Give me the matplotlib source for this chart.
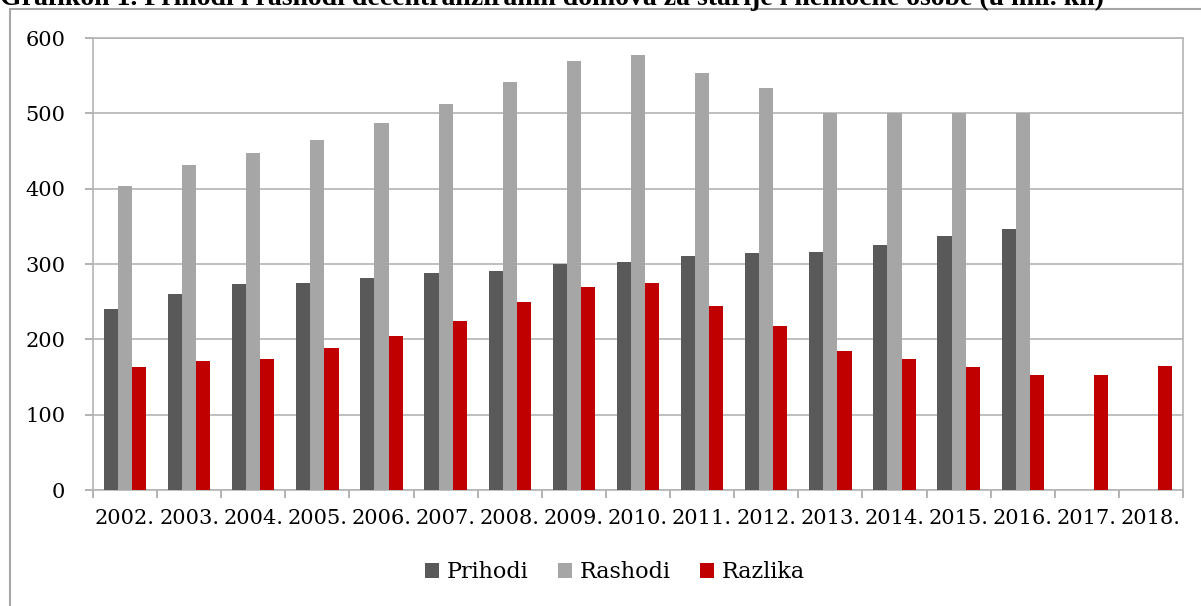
import matplotlib.pyplot as plt
import numpy as np
from matplotlib.patches import Rectangle

# data (mil. kn)
years = ["2002.", "2003.", "2004.", "2005.", "2006.", "2007.", "2008.", "2009.",
         "2010.", "2011.", "2012.", "2013.", "2014.", "2015.", "2016.", "2017.", "2018."]
prihodi = [240, 260, 273, 275, 281, 288, 291, 300, 302, 310, 315, 316, 325, 337, 347,
           np.nan, np.nan]
rashodi = [403, 432, 448, 465, 487, 512, 541, 569, 577, 554, 533, 500, 500, 500, 500,
           np.nan, np.nan]
razlika = [163, 171, 174, 189, 205, 224, 250, 269, 275, 244, 218, 185, 174, 163, 152,
           152, 164]

series = [("Prihodi", prihodi, "#595959"),
          ("Rashodi", rashodi, "#a6a6a6"),
          ("Razlika", razlika, "#c00000")]

plt.rcParams["font.family"] = ["DejaVu Serif"]

fig = plt.figure(figsize=(12.01, 6.06), dpi=100)
ax = fig.add_axes([93 / 1201, 1 - 490 / 606, (1183 - 93) / 1201, (490 - 38) / 606])

x = np.arange(len(years))
w = 0.22
for i, (name, vals, color) in enumerate(series):
    ax.bar(x + (i - 1) * w, vals, width=w, color=color, label=name, zorder=3)

ax.set_xlim(-0.5, len(years) - 0.5)
ax.set_ylim(0, 600)
ax.set_yticks(range(0, 601, 100))
ax.yaxis.grid(True, color="#b4b4b4", linewidth=1.2, zorder=0)
ax.set_axisbelow(True)

ax.set_xticks(x)
ax.set_xticklabels(years, fontsize=15)
ax.set_xticks(np.arange(-0.5, len(years)), minor=True)
ax.tick_params(axis="x", which="major", length=0, pad=14)
ax.tick_params(axis="x", which="minor", length=6, color="#a6a6a6", width=1.2)
ax.tick_params(axis="y", length=6, color="#a6a6a6", width=1.2, labelsize=15, pad=14)

for side in ["left", "bottom", "right", "top"]:
    ax.spines[side].set_color("#b4b4b4")
    ax.spines[side].set_linewidth(1.2)

leg = fig.legend(loc="center", bbox_to_anchor=(0.512, 1 - 572 / 606), ncol=3,
                 frameon=False, fontsize=16, handlelength=0.65, handleheight=0.65,
                 handletextpad=0.35, columnspacing=1.3)

# outer chart border, running off the right and bottom edges
fig.patches.append(Rectangle((10 / 1201, -0.1), 1.2, 1.1 - 9.5 / 606,
                             transform=fig.transFigure, fill=False,
                             edgecolor="#a6a6a6", linewidth=1.5))

# title, mostly cut off by the top edge as in the source
fig.text(0.0, 1 - 5 / 606,
         "Grafikon 1. Prihodi i rashodi decentraliziranih domova za starije i nemoćne osobe (u mil. kn)",
         fontsize=20, fontweight="bold", family="Liberation Serif", va="baseline", ha="left")

fig.savefig("out.png", dpi=100)
